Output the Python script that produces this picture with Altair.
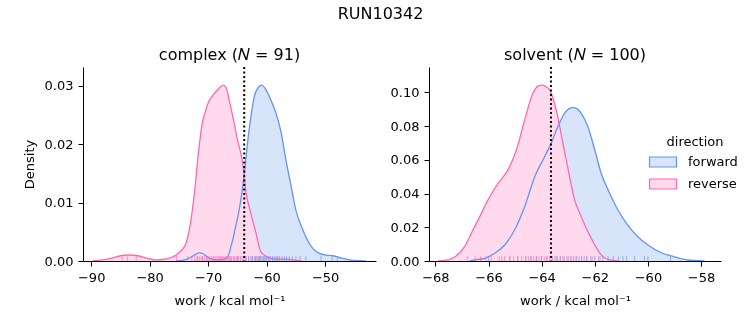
import altair as alt
import pandas as pd

directions = ["forward", "reverse"]
line_colors = ["#6495ED", "#FF69B4"]
fill_colors = ["#D8E4FA", "#FFDAEC"]

# ---- complex panel: KDE curves ----
cx_fwd_x = [-75.5, -74.0, -73.0, -72.2, -71.5, -70.8, -70.0, -69.3, -68.3, -67.3,
            -66.6, -66.1, -65.7, -65.3, -64.8, -64.4, -63.8, -63.2, -62.6, -62.1,
            -61.5, -60.9, -60.1, -59.3, -58.4, -57.5, -56.7, -55.8, -55.0, -53.8,
            -52.7, -51.0, -49.8, -48.7, -47.6, -46.7, -45.8, -44.1, -43.0]
cx_fwd_y = [0.0, 0.0002, 0.0006, 0.0011, 0.0014, 0.0012, 0.0006, 0.0003, 0.0002, 0.0003,
            0.0008, 0.0025, 0.0040, 0.0059, 0.0082, 0.0105, 0.0150, 0.0208, 0.0253, 0.0282,
            0.0296, 0.0301, 0.0293, 0.0276, 0.0253, 0.0219, 0.0173, 0.0127, 0.0087, 0.0053,
            0.0030, 0.0013, 0.0010, 0.0009, 0.0006, 0.0004, 0.0002, 0.00005, 0.0]
cx_rev_x = [-89.8, -88.0, -86.5, -85.0, -83.5, -82.0, -80.5, -79.0, -77.5, -76.3,
            -75.5, -74.6, -73.8, -73.2, -72.7, -72.2, -71.8, -71.4, -71.0, -70.5,
            -70.1, -69.3, -68.4, -67.9, -67.4, -66.9, -66.4, -65.8, -65.0, -64.1,
            -63.5, -62.7, -61.8, -61.0, -60.2, -59.5, -58.0, -56.5, -55.0, -54.0]
cx_rev_y = [0.0, 0.0002, 0.0005, 0.0009, 0.00103, 0.0009, 0.0005, 0.0002, 0.0003, 0.0006,
            0.0010, 0.0018, 0.0030, 0.0055, 0.0087, 0.0130, 0.0173, 0.0208, 0.0236, 0.0255,
            0.0268, 0.0282, 0.0293, 0.0298, 0.0301, 0.0296, 0.0275, 0.0248, 0.0208, 0.0168,
            0.0116, 0.0082, 0.0047, 0.0016, 0.0009, 0.0005, 0.0003, 0.0003, 0.0001, 0.0]

# ---- solvent panel: KDE curves ----
sv_fwd_x = [-66.7, -66.52, -66.14, -65.77, -65.39, -65.02, -64.64, -64.26, -63.89, -63.64,
            -63.39, -63.14, -62.98, -62.82, -62.66, -62.51, -62.26, -62.0, -61.76, -61.44,
            -61.13, -60.76, -60.38, -60.0, -59.5, -59.0, -58.5, -57.87]
sv_fwd_y = [0.0, 0.0006, 0.0016, 0.0046, 0.0095, 0.0184, 0.0322, 0.0500, 0.0618, 0.0698,
            0.0796, 0.0875, 0.0902, 0.0909, 0.0902, 0.0875, 0.0796, 0.0658, 0.0520, 0.0401,
            0.0302, 0.0213, 0.0144, 0.0095, 0.0049, 0.0025, 0.0006, 0.0]
sv_rev_x = [-67.9, -67.5, -67.27, -66.9, -66.65, -66.33, -66.02, -65.64, -65.27, -64.95,
            -64.64, -64.33, -64.15, -63.99, -63.85, -63.70, -63.45, -63.2, -62.95, -62.76,
            -62.51, -62.26, -62.0, -61.76, -61.44, -61.1]
sv_rev_y = [0.0, 0.0008, 0.0025, 0.0085, 0.0164, 0.0263, 0.0362, 0.0460, 0.0540, 0.0658,
            0.0836, 0.0994, 0.1035, 0.1043, 0.1035, 0.1014, 0.0895, 0.0698, 0.0500, 0.0362,
            0.0263, 0.0174, 0.0095, 0.0036, 0.0006, 0.0]

# ---- rug (individual work values, estimated) ----
cx_fwd_rug = [-71.8, -71.0, -70.2, -66.3, -65.6, -65.0, -64.5, -64.0, -63.5, -63.1,
              -62.7, -62.4, -62.1, -61.9, -61.6, -61.4, -61.2, -61.0, -60.8, -60.6,
              -60.4, -60.2, -60.0, -59.8, -59.6, -59.3, -59.0, -58.7, -58.4, -58.1,
              -57.8, -57.4, -57.0, -56.6, -56.1, -55.6, -55.0, -54.3, -53.3, -50.7,
              -48.8, -47.9]
cx_rev_rug = [-84.7, -83.8, -82.3, -75.4, -73.5, -72.8, -72.3, -71.9, -71.5, -71.2,
              -70.9, -70.6, -70.3, -70.0, -69.8, -69.5, -69.2, -69.0, -68.8, -68.5,
              -68.3, -68.1, -67.9, -67.7, -67.5, -67.3, -67.1, -66.9, -66.7, -66.5,
              -66.2, -66.0, -65.7, -65.4, -65.1, -64.8, -64.4, -64.0, -63.6, -63.1,
              -62.5, -61.8, -61.2, -60.5, -59.4, -58.2]
sv_fwd_rug = [-66.0, -65.5, -65.2, -64.9, -64.6, -64.4, -64.2, -64.0, -63.8, -63.6,
              -63.45, -63.3, -63.15, -63.0, -62.9, -62.8, -62.7, -62.6, -62.5, -62.4,
              -62.3, -62.15, -62.0, -61.85, -61.7, -61.5, -61.3, -61.1, -60.94, -60.8,
              -60.5, -60.13, -60.0, -59.15]
sv_rev_rug = [-66.8, -66.5, -66.3, -66.1, -65.9, -65.6, -65.4, -65.2, -65.05, -64.9,
              -64.75, -64.6, -64.5, -64.4, -64.3, -64.2, -64.1, -64.0, -63.9, -63.8,
              -63.7, -63.6, -63.5, -63.4, -63.3, -63.2, -63.05, -62.9, -62.7, -62.5,
              -62.3, -62.1, -61.8]

ref_lines = [-63.83, -63.65]
panel_titles = ["complex (\U0001D441 = 91)", "solvent (\U0001D441 = 100)"]
x_domains = [[-91.4, -41.3], [-68.24, -57.25]]
y_domains = [[0, 0.0332], [0, 0.115]]
x_ticks = [[-90, -80, -70, -60, -50], [-68, -66, -64, -62, -60, -58]]
y_ticks = [[0, 0.01, 0.02, 0.03], [0, 0.02, 0.04, 0.06, 0.08, 0.10]]
x_title = "work / kcal mol\u207b\u00b9"

legend = alt.Legend(
    title="direction", orient="none", legendX=569, legendY=69,
    symbolType="M-1.35,-0.5H1.35V0.5H-1.35Z", symbolSize=400,
    symbolStrokeWidth=1.2, labelOffset=14, rowPadding=3,
    titleAnchor="middle", titlePadding=2,
    labelFontSize=13, titleFontSize=13, titleFontWeight="normal",
    labelColor="black", titleColor="black",
)


def curves_frame(fx, fy, rx, ry):
    return pd.concat([
        pd.DataFrame({"work": fx, "density": fy, "direction": "forward"}),
        pd.DataFrame({"work": rx, "density": ry, "direction": "reverse"}),
    ])


def rug_frame(fr, rr):
    return pd.concat([
        pd.DataFrame({"work": fr, "direction": "forward"}),
        pd.DataFrame({"work": rr, "direction": "reverse"}),
    ])


def panel(i, curves, rugs, ytitle, width):
    xs = alt.Scale(domain=x_domains[i], nice=False, zero=False)
    ys = alt.Scale(domain=y_domains[i], nice=False, zero=False)
    x = alt.X("work:Q", scale=xs,
              axis=alt.Axis(values=x_ticks[i], tickCount=len(x_ticks[i]), format="d",
                            title=x_title, titlePadding=10))
    y = alt.Y("density:Q", scale=ys, stack=None,
              axis=alt.Axis(values=y_ticks[i], tickCount=len(y_ticks[i]), format=".2f",
                            title=ytitle, titlePadding=8))
    base = alt.Chart(curves)
    area = base.mark_area(blend="multiply", clip=True, interpolate="monotone").encode(
        x=x, y=y,
        fill=alt.Fill("direction:N", scale=alt.Scale(domain=directions, range=fill_colors), legend=legend),
    )
    line = base.mark_line(strokeWidth=1.3, clip=True, interpolate="monotone").encode(
        x="work:Q", y=alt.Y("density:Q", stack=None),
        stroke=alt.Stroke("direction:N", scale=alt.Scale(domain=directions, range=line_colors), legend=legend),
    )
    rug = alt.Chart(rugs).mark_rule(strokeWidth=1, opacity=0.65).encode(
        x="work:Q",
        y=alt.datum(0),
        y2=alt.datum(y_domains[i][1] * 0.025),
        color=alt.Color("direction:N", scale=alt.Scale(domain=directions, range=line_colors), legend=None),
    )
    ref = alt.Chart(pd.DataFrame({"work": [ref_lines[i]]})).mark_rule(
        color="black", strokeWidth=2, strokeDash=[2, 2.5]
    ).encode(x="work:Q")
    return alt.layer(area, line, rug, ref).properties(
        width=width, height=194,
        title=alt.TitleParams(panel_titles[i], fontSize=16, fontWeight="normal", offset=3),
    )


left = panel(0, curves_frame(cx_fwd_x, cx_fwd_y, cx_rev_x, cx_rev_y),
             rug_frame(cx_fwd_rug, cx_rev_rug), "Density", 293)
right = panel(1, curves_frame(sv_fwd_x, sv_fwd_y, sv_rev_x, sv_rev_y),
              rug_frame(sv_fwd_rug, sv_rev_rug), None, 292)

chart = alt.hconcat(left, right, spacing=14).resolve_scale(
    x="independent", y="independent", fill="shared", stroke="shared", color="shared"
).properties(
    title=alt.TitleParams("RUN10342", fontSize=16, fontWeight="normal", anchor="middle", offset=25),
    padding={"left": 23, "top": 6, "right": 5, "bottom": 5},
).configure(
    font="DejaVu Sans", background="white"
).configure_view(
    stroke=None
).configure_axis(
    grid=False, domainColor="black", tickColor="black", labelColor="black",
    titleColor="black", labelFontSize=13, titleFontSize=13, titleFontWeight="normal",
    tickSize=5, labelPadding=5, domainWidth=1, tickWidth=1,
    labelFont="DejaVu Sans", titleFont="DejaVu Sans",
).configure_title(
    font="DejaVu Sans", color="black"
).configure_legend(
    labelFont="DejaVu Sans", titleFont="DejaVu Sans"
)

chart.save("out.html", embed_options={"renderer": "svg", "actions": False})
